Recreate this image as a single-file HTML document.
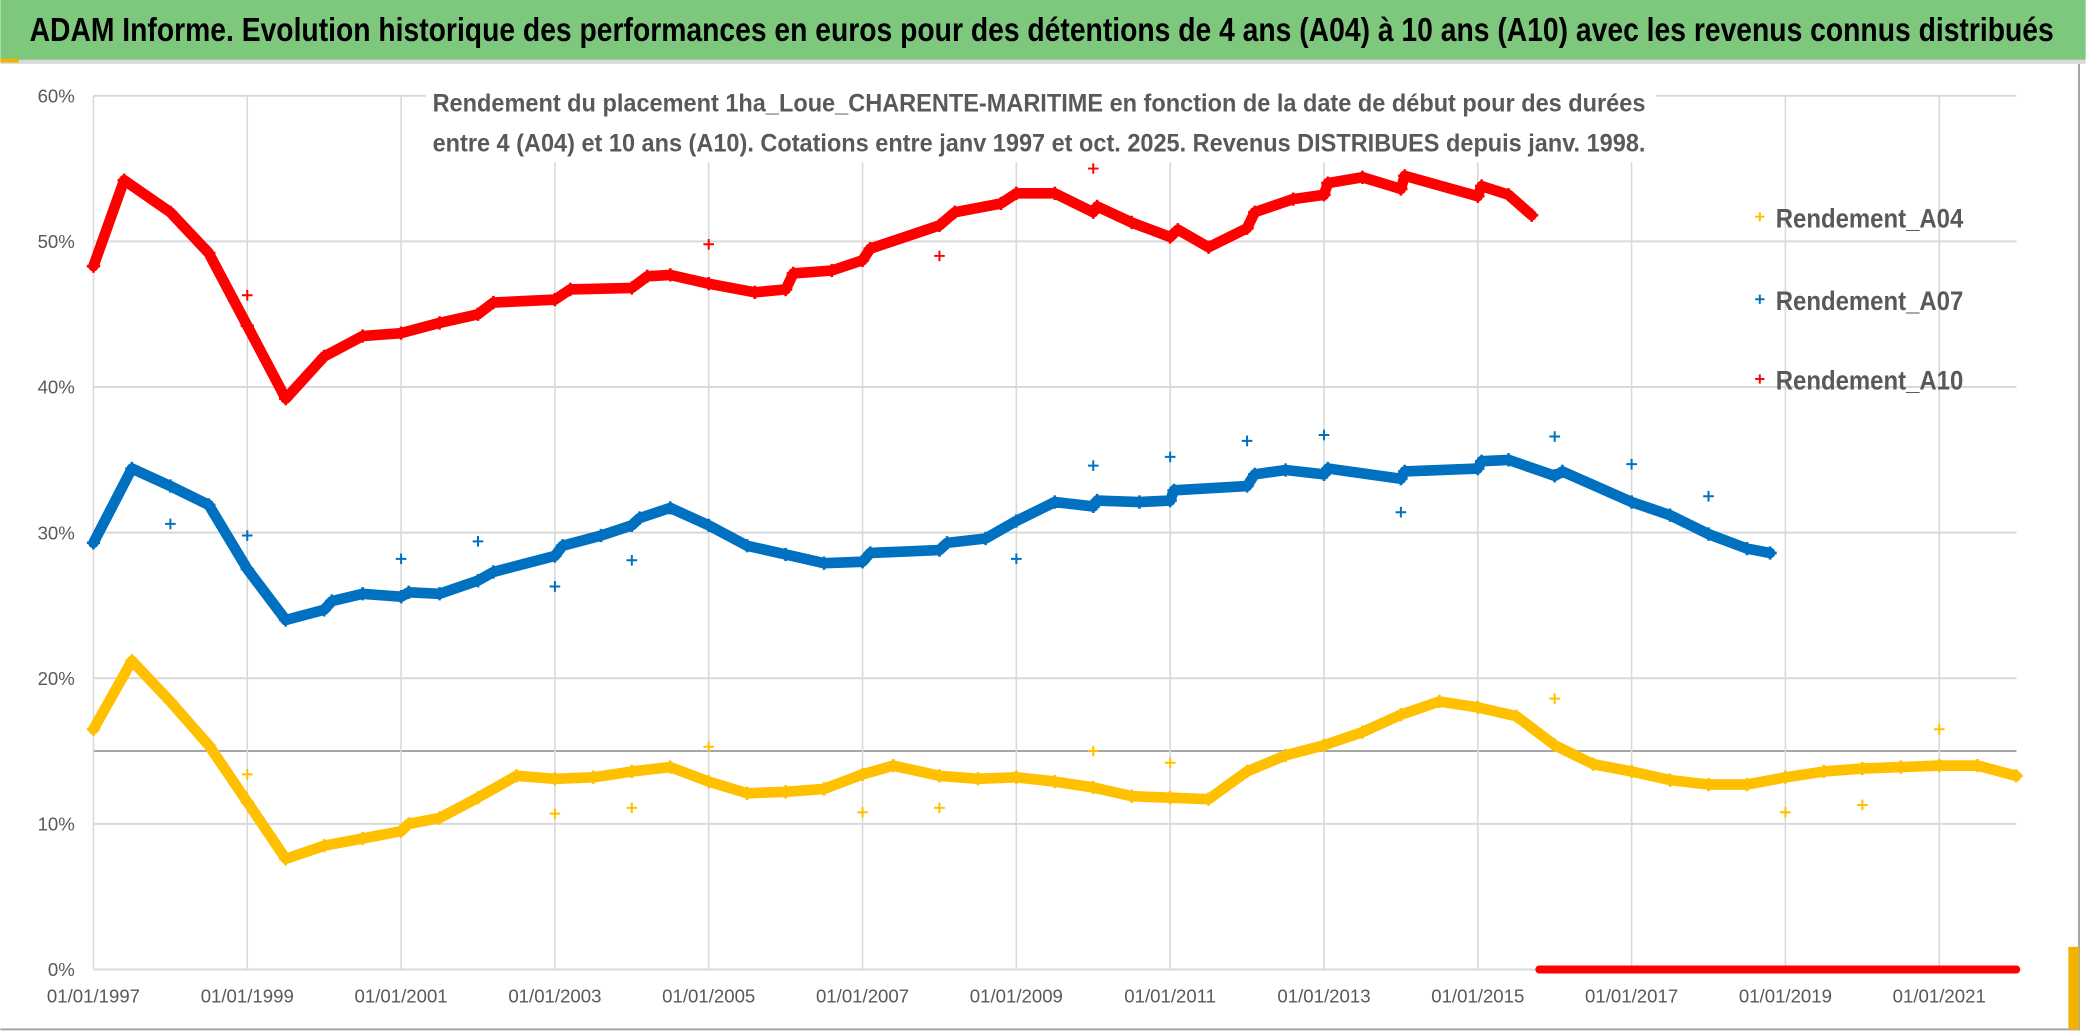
<!DOCTYPE html>
<html><head><meta charset="utf-8"><style>
html,body{margin:0;padding:0;background:#fff;}
svg{display:block;}
text{font-family:"Liberation Sans Narrow","Liberation Sans",sans-serif;}
</style></head><body>
<svg id="chart" width="2086" height="1032" viewBox="0 0 1568 776" xmlns="http://www.w3.org/2000/svg">
<rect x="0" y="0" width="1568" height="776" fill="#fff"/>
<rect x="0" y="0" width="1568" height="45" fill="#7DC87D"/>
<rect x="0" y="45" width="1568" height="3" fill="#d9d9d9"/>
<rect x="0" y="44" width="14" height="3" fill="#f0b400"/>
<text x="22" y="31" font-size="25" font-weight="bold" fill="#000" textLength="1522" lengthAdjust="spacingAndGlyphs">ADAM Informe. Evolution historique des performances en euros pour des détentions de 4 ans (A04) à 10 ans (A10) avec les revenus connus distribués</text>
<line x1="1563" y1="48" x2="1563" y2="775" stroke="#a6a6a6" stroke-width="1.5"/>
<line x1="0" y1="774" x2="1563" y2="774" stroke="#a6a6a6" stroke-width="1.5"/>
<rect x="1555" y="712" width="8" height="62" fill="#f0b400"/>
<g id="grid"></g>
<rect x="320" y="60" width="925" height="62" fill="#fff"/>
<g id="series"></g>
<text x="325" y="84" font-size="18.5" font-weight="bold" fill="#595959" textLength="912" lengthAdjust="spacingAndGlyphs">Rendement du placement 1ha_Loue_CHARENTE-MARITIME en fonction de la date de début pour des durées</text>
<text x="325" y="114" font-size="18.5" font-weight="bold" fill="#595959" textLength="912" lengthAdjust="spacingAndGlyphs">entre 4 (A04) et 10 ans (A10). Cotations entre janv 1997 et oct. 2025. Revenus DISTRIBUES depuis janv. 1998.</text>
<g id="legend"></g>
</svg>
<script>
const xTickLabels = ["01/01/1997","01/01/1999","01/01/2001","01/01/2003","01/01/2005","01/01/2007","01/01/2009","01/01/2011","01/01/2013","01/01/2015","01/01/2017","01/01/2019","01/01/2021"];
const xTickYears = [1997,1999,2001,2003,2005,2007,2009,2011,2013,2015,2017,2019,2021];
const yTicks = [0,10,20,30,40,50,60];

const a10Dates = [1997.0,1997.4,1998.0,1998.5,1999.0,1999.5,2000.0,2000.5,2001.0,2001.5,2002.0,2002.2,2003.0,2003.2,2004.0,2004.2,2004.5,2005.0,2005.6,2006.0,2006.1,2006.6,2007.0,2007.1,2008.0,2008.2,2008.8,2009.0,2009.5,2010.0,2010.05,2010.5,2011.0,2011.1,2011.5,2012.0,2012.1,2012.6,2013.0,2013.05,2013.5,2014.0,2014.05,2015.0,2015.05,2015.4,2015.7];
const a10Values = [48.3,54.2,52.0,49.2,44.2,39.2,42.1,43.5,43.7,44.4,45.0,45.8,46.0,46.7,46.8,47.6,47.7,47.1,46.5,46.7,47.8,48.0,48.7,49.5,51.1,52.0,52.6,53.3,53.3,52.0,52.4,51.3,50.3,50.8,49.6,50.9,52.0,52.9,53.2,54.0,54.4,53.6,54.5,53.1,53.8,53.2,51.8];
const a10OutDates = [1999.0,2005.0,2008.0,2010.0];
const a10OutValues = [46.3,49.8,49.0,55.0];
const a10ZeroDates = [2015.8,2016.5,2017.0,2017.5,2018.0,2018.5,2019.0,2019.5,2020.0,2020.5,2021.0,2021.5,2022.0];
const a10ZeroValues = [0,0,0,0,0,0,0,0,0,0,0,0,0];

const a07Dates = [1997.0,1997.5,1998.0,1998.5,1999.0,1999.5,2000.0,2000.1,2000.5,2001.0,2001.1,2001.5,2002.0,2002.2,2003.0,2003.1,2003.6,2004.0,2004.1,2004.5,2005.0,2005.5,2006.0,2006.5,2007.0,2007.1,2008.0,2008.1,2008.6,2009.0,2009.5,2010.0,2010.05,2010.6,2011.0,2011.05,2012.0,2012.1,2012.5,2013.0,2013.05,2014.0,2014.05,2015.0,2015.05,2015.4,2016.0,2016.1,2017.0,2017.5,2018.0,2018.5,2018.8];
const a07Values = [29.3,34.4,33.2,31.9,27.5,24.0,24.7,25.3,25.8,25.6,25.9,25.8,26.7,27.3,28.4,29.1,29.8,30.5,31.0,31.7,30.5,29.1,28.5,27.9,28.0,28.6,28.8,29.3,29.6,30.8,32.1,31.8,32.2,32.1,32.2,32.9,33.2,34.0,34.3,34.0,34.4,33.7,34.2,34.4,34.9,35.0,33.9,34.2,32.1,31.2,29.9,28.9,28.6];
const a07OutDates = [1998.0,1999.0,2001.0,2002.0,2003.0,2004.0,2009.0,2010.0,2011.0,2012.0,2013.0,2014.0,2016.0,2017.0,2018.0];
const a07OutValues = [30.6,29.8,28.2,29.4,26.3,28.1,28.2,34.6,35.2,36.3,36.7,31.4,36.6,34.7,32.5];

const a04Dates = [1997.0,1997.5,1998.0,1998.5,1999.0,1999.5,2000.0,2000.5,2001.0,2001.1,2001.5,2002.0,2002.5,2003.0,2003.5,2004.0,2004.5,2005.0,2005.5,2006.0,2006.5,2007.0,2007.4,2008.0,2008.5,2009.0,2009.5,2010.0,2010.5,2011.0,2011.5,2012.0,2012.5,2013.0,2013.5,2014.0,2014.5,2015.0,2015.5,2016.0,2016.5,2017.0,2017.5,2018.0,2018.5,2019.0,2019.5,2020.0,2020.5,2021.0,2021.5,2022.0];
const a04Values = [16.5,21.2,18.4,15.4,11.5,7.6,8.5,9.0,9.5,10.0,10.4,11.8,13.3,13.1,13.2,13.6,13.9,12.9,12.1,12.2,12.4,13.4,14.0,13.3,13.1,13.2,12.9,12.5,11.9,11.8,11.7,13.6,14.7,15.4,16.3,17.5,18.4,18.0,17.4,15.4,14.1,13.6,13.0,12.7,12.7,13.2,13.6,13.8,13.9,14.0,14.0,13.3];
const a04OutDates = [1999.0,2003.0,2004.0,2005.0,2007.0,2008.0,2010.0,2011.0,2016.0,2019.0,2020.0,2021.0];
const a04OutValues = [13.4,10.7,11.1,15.3,10.8,11.1,15.0,14.2,18.6,10.8,11.3,16.5];

const legendNames = ["Rendement_A04","Rendement_A07","Rendement_A10"];

const NS="http://www.w3.org/2000/svg";
const X0=70, PX_PER_YEAR=57.83, Y0=729, PX_PER_PCT=10.95, XR=1516;
function xs(d){return X0+(d-1997)*PX_PER_YEAR;}
function ys(v){return Y0-v*PX_PER_PCT;}
function mk(tag,attrs,parent){const e=document.createElementNS(NS,tag);for(const k in attrs)e.setAttribute(k,attrs[k]);parent.appendChild(e);return e;}

const grid=document.getElementById('grid');
yTicks.forEach(t=>{
  const l=mk('line',{x1:X0,x2:XR,y1:ys(t),y2:ys(t),stroke:'#d9d9d9','stroke-width':1.5},grid);
  
  
  const tx=mk('text',{x:56,y:ys(t)+5,'text-anchor':'end','font-size':14,fill:'#595959'},grid);
  tx.textContent=t+'%';
  
  
});
const ref=mk('line',{x1:X0,x2:XR,y1:ys(15),y2:ys(15),stroke:'#a6a6a6','stroke-width':1.5},grid);


xTickYears.forEach((yr,i)=>{
  const l=mk('line',{x1:xs(yr),x2:xs(yr),y1:ys(60),y2:Y0,stroke:'#d9d9d9','stroke-width':1.2},grid);
  
  
  const tx=mk('text',{x:xs(yr),y:754,'text-anchor':'middle','font-size':14,fill:'#595959'},grid);
  tx.textContent=xTickLabels[i];
  
  
});

const ser=document.getElementById('series');
function plus(g,x,y,c,s,w){
  const p=mk('path',{d:`M${x-s} ${y}H${x+s}M${x} ${y-s}V${y+s}`,stroke:c,'stroke-width':w,fill:'none'},g);
  
  
}
function drawSeries(name,dates,vals,od,ov,color){
  const g=mk('g',{},ser);
  
  
  const pts=dates.map((d,i)=>xs(d).toFixed(1)+','+ys(vals[i]).toFixed(1)).join(' ');
  const pl=mk('polyline',{points:pts,fill:'none',stroke:color,'stroke-width':8,'stroke-linejoin':'round','stroke-linecap':'round'},g);
  
  
  dates.forEach((d,i)=>plus(g,xs(d),ys(vals[i]),color,5,2));
  od.forEach((d,i)=>plus(g,xs(d),ys(ov[i]),color,4,1.5));
}
drawSeries('series-a04',a04Dates,a04Values,a04OutDates,a04OutValues,'#FFC000');
drawSeries('series-a07',a07Dates,a07Values,a07OutDates,a07OutValues,'#0070C0');
drawSeries('series-a10',a10Dates,a10Values,a10OutDates,a10OutValues,'#FF0000');
(function(){
  const g=mk('g',{},ser);
  
  
  const pts=a10ZeroDates.map((d,i)=>xs(d).toFixed(1)+','+ys(a10ZeroValues[i]).toFixed(1)).join(' ');
  const pl=mk('polyline',{points:pts,fill:'none',stroke:'#FF0000','stroke-width':6,'stroke-linecap':'round'},g);
  
  
})();

const leg=document.getElementById('legend');
const legColors=['#FFC000','#0070C0','#FF0000'];
const legY=[165,227,287];
legendNames.forEach((n,i)=>{
  const g=mk('g',{},leg);
  
  
  plus(g,1323,legY[i]-2,legColors[i],3.5,1.5);
  const t=mk('text',{x:1335,y:legY[i]+6,'font-size':20,fill:'#595959','font-weight':'bold',textLength:141,lengthAdjust:'spacingAndGlyphs'},g);
  t.textContent=n;
  
  
});
</script>
</body></html>
